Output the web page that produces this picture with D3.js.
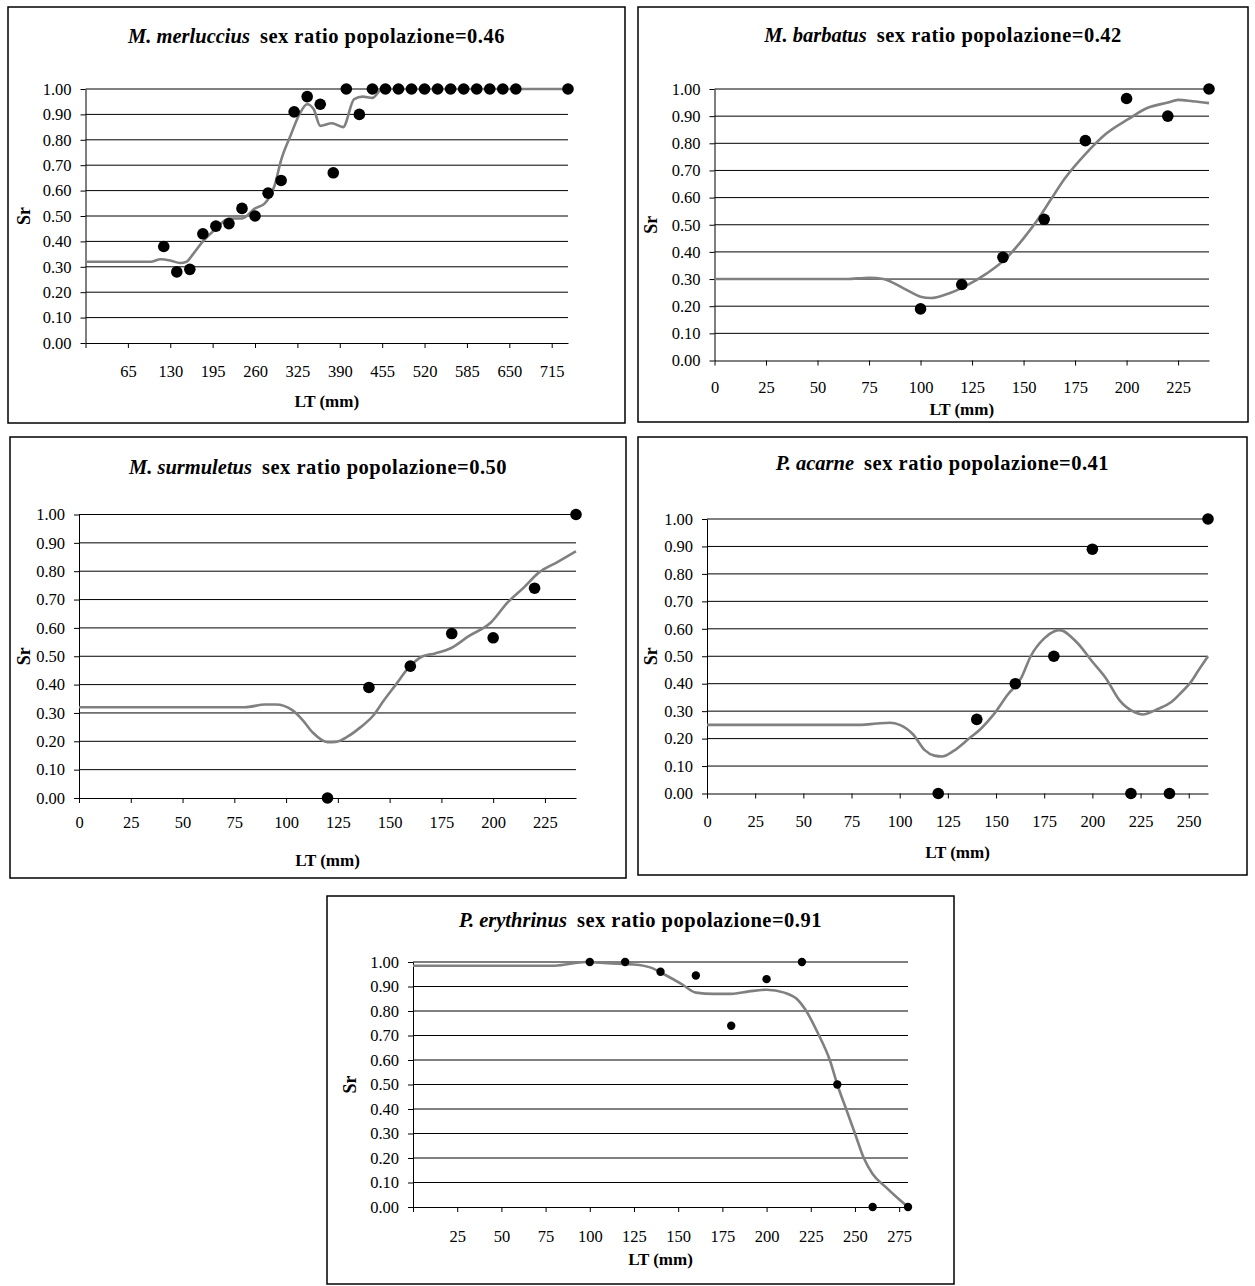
<!DOCTYPE html>
<html><head><meta charset="utf-8">
<script src="https://cdn.jsdelivr.net/npm/d3@7"></script>
<style>body{margin:0;background:#fff} svg{display:block}</style>
</head><body>
<svg id="c" width="1255" height="1286"></svg>
<script>
// ---------- DATA ----------
const species = ["M. merluccius", "M. barbatus", "M. surmuletus", "P. acarne", "P. erythrinus"];
const popRatio = ["0.46", "0.42", "0.50", "0.41", "0.91"];
const yTicks = [0, 0.1, 0.2, 0.3, 0.4, 0.5, 0.6, 0.7, 0.8, 0.9, 1.0];

const merlTicks = [0, 65, 130, 195, 260, 325, 390, 455, 520, 585, 650, 715];
const merlX = [120,140,160,180,200,220,240,260,280,300,320,340,360,380,400,420,440,460,480,500,520,540,560,580,600,620,640,660,740];
const merlY = [0.38,0.28,0.29,0.43,0.46,0.47,0.53,0.50,0.59,0.64,0.91,0.97,0.94,0.67,1.00,0.90,1.00,1.00,1.00,1.00,1.00,1.00,1.00,1.00,1.00,1.00,1.00,1.00,1.00];
const merlTrend = [[0,0.32],[100,0.32],[115,0.33],[130,0.325],[145,0.315],[155,0.32],[165,0.35],[180,0.40],[200,0.45],[220,0.49],[240,0.49],[260,0.53],[275,0.55],[290,0.62],[300,0.72],[315,0.82],[328,0.90],[340,0.94],[350,0.92],[360,0.855],[378,0.865],[395,0.85],[412,0.96],[425,0.97],[440,0.965],[455,1.00],[740,1.00]];

const barbTicks = [0, 25, 50, 75, 100, 125, 150, 175, 200, 225];
const barbX = [100,120,140,160,180,200,220,240];
const barbY = [0.19,0.28,0.38,0.52,0.81,0.965,0.90,1.00];
const barbTrend = [[0,0.30],[64,0.30],[75,0.305],[82,0.30],[92,0.265],[100,0.235],[105,0.23],[113,0.245],[122,0.275],[132,0.32],[142,0.38],[150,0.45],[157,0.52],[163,0.59],[170,0.67],[180,0.76],[190,0.835],[201,0.89],[210,0.93],[220,0.95],[225,0.96],[232,0.955],[240,0.948]];

const surmTicks = [0, 25, 50, 75, 100, 125, 150, 175, 200, 225];
const surmX = [120,140,160,180,200,220,240];
const surmY = [0.00,0.39,0.465,0.58,0.565,0.74,1.00];
const surmTrend = [[0,0.32],[80,0.32],[90,0.33],[95,0.33],[103,0.31],[108,0.275],[113,0.23],[120,0.197],[124,0.198],[130,0.218],[136,0.25],[142,0.29],[147,0.342],[153,0.40],[159,0.458],[166,0.50],[172,0.51],[180,0.53],[188,0.57],[199,0.62],[207,0.69],[215,0.744],[222,0.795],[231,0.832],[240,0.87]];

const acarTicks = [0, 25, 50, 75, 100, 125, 150, 175, 200, 225, 250];
const acarX = [120,140,160,180,200,220,240,260];
const acarY = [0.00,0.27,0.40,0.50,0.89,0.00,0.00,1.00];
const acarTrend = [[0,0.25],[80,0.25],[88,0.255],[95,0.258],[100,0.25],[107,0.215],[113,0.158],[118,0.138],[122,0.135],[128,0.155],[136,0.20],[142,0.235],[149,0.29],[156,0.36],[163,0.42],[168,0.50],[175,0.565],[180,0.59],[183,0.595],[192,0.55],[200,0.48],[207,0.42],[214,0.34],[222,0.296],[226,0.288],[234,0.308],[241,0.333],[246,0.367],[251,0.405],[255,0.448],[260,0.50]];

const eryTicks = [0, 25, 50, 75, 100, 125, 150, 175, 200, 225, 250, 275];
const eryX = [100,120,140,160,180,200,220,240,260,280];
const eryY = [1.00,1.00,0.96,0.945,0.74,0.93,1.00,0.50,0.00,0.00];
const eryTrend = [[0,0.985],[80,0.985],[98,1.00],[110,0.995],[125,0.99],[135,0.976],[142,0.95],[152,0.91],[160,0.875],[170,0.87],[180,0.87],[190,0.88],[200,0.887],[210,0.875],[217,0.85],[222,0.805],[229,0.71],[236,0.595],[240,0.50],[245,0.40],[250,0.30],[255,0.20],[260,0.135],[267,0.084],[273,0.044],[280,0.00]];

// ---------- LAYOUT ----------
const panels = [
  {sp:0, xMax:740, ticks:merlTicks, skip0:true,  xs:merlX, ys:merlY, trend:merlTrend,
   box:[8,7,625,423], plot:[85.5,89,568,343], titleY:42.5, xLabY:376.5, ltY:407, srX:24, r:5.8},
  {sp:1, xMax:240, ticks:barbTicks, skip0:false, xs:barbX, ys:barbY, trend:barbTrend,
   box:[638,7,1248,422], plot:[714.5,89,1209,360.5], titleY:42, xLabY:393.3, ltY:415, srX:651, r:5.8},
  {sp:2, xMax:240, ticks:surmTicks, skip0:false, xs:surmX, ys:surmY, trend:surmTrend,
   box:[10,437,626,878], plot:[79,514.5,576,798], titleY:473.5, xLabY:828, ltY:866, srX:24, r:5.8},
  {sp:3, xMax:260, ticks:acarTicks, skip0:false, xs:acarX, ys:acarY, trend:acarTrend,
   box:[638,437,1247,875], plot:[707,519,1208,793.5], titleY:469.5, xLabY:826.7, ltY:858.3, srX:651, r:5.8},
  {sp:4, xMax:280, ticks:eryTicks, skip0:true,  xs:eryX, ys:eryY, trend:eryTrend,
   box:[327,896,954,1284], plot:[413,962,908,1207], titleY:926.5, xLabY:1241.5, ltY:1265, srX:350, r:4.2}
];

const svg = d3.select("#c");
const FONT = "'Liberation Serif','Times New Roman',serif";

panels.forEach(p => {
  const [bx0, by0, bx1, by1] = p.box;
  const [px0, py1, px1, py0] = p.plot;
  const g = svg.append("g");
  g.append("rect").attr("x", bx0).attr("y", by0).attr("width", bx1 - bx0).attr("height", by1 - by0)
    .attr("fill", "#fff").attr("stroke", "#000").attr("stroke-width", 1.5);

  const x = d3.scaleLinear().domain([0, p.xMax]).range([px0, px1]);
  const y = d3.scaleLinear().domain([0, 1]).range([py0, py1]);

  // gridlines
  g.append("g").selectAll("line").data(yTicks.filter(d => d > 0)).join("line")
    .attr("x1", px0).attr("x2", px1).attr("y1", d => y(d)).attr("y2", d => y(d))
    .attr("stroke", "#000").attr("stroke-width", 1);

  // y axis
  const ya = g.append("g").attr("transform", `translate(${px0},0)`)
    .call(d3.axisLeft(y).tickValues(yTicks).tickSize(5).tickSizeOuter(0).tickPadding(9).tickFormat(d3.format(".2f")));
  ya.selectAll("text").attr("font-family", FONT).attr("font-size", 16.5).attr("fill", "#000");
  ya.selectAll("line,path").attr("stroke", "#000");

  // x axis
  const xa = g.append("g").attr("transform", `translate(0,${py0})`)
    .call(d3.axisBottom(x).tickValues(p.ticks).tickSize(5).tickSizeOuter(0)
      .tickFormat(d => (p.skip0 && d === 0) ? "" : d));
  xa.selectAll("text").attr("font-family", FONT).attr("font-size", 16.5).attr("fill", "#000")
    .attr("y", p.xLabY - py0).attr("dy", 0);
  xa.selectAll("line,path").attr("stroke", "#000");

  // trend line
  g.append("path").datum(p.trend)
    .attr("d", d3.line().x(d => x(d[0])).y(d => y(d[1])).curve(d3.curveMonotoneX))
    .attr("fill", "none").attr("stroke", "#808080").attr("stroke-width", 2.6);

  // points
  g.append("g").selectAll("circle").data(p.xs.map((v, i) => [v, p.ys[i]])).join("circle")
    .attr("cx", d => x(d[0])).attr("cy", d => y(d[1])).attr("r", p.r).attr("fill", "#000");

  // title
  const t = g.append("text").attr("x", (bx0 + bx1) / 2).attr("y", p.titleY)
    .attr("text-anchor", "middle").attr("font-family", FONT).attr("font-size", 20.5).attr("font-weight", "bold");
  t.append("tspan").attr("font-style", "italic").text(species[p.sp]);
  t.append("tspan").attr("dx", 10).attr("letter-spacing", 0.5).text("sex ratio popolazione=" + popRatio[p.sp]);

  // axis titles
  g.append("text").attr("x", (px0 + px1) / 2).attr("y", p.ltY).attr("text-anchor", "middle")
    .attr("font-family", FONT).attr("font-size", 17).attr("font-weight", "bold").text("LT (mm)");
  g.append("text").attr("transform", `translate(${p.srX},${(py0 + py1) / 2}) rotate(-90)`)
    .attr("text-anchor", "middle").attr("dy", "0.35em")
    .attr("font-family", FONT).attr("font-size", 18).attr("font-weight", "bold").text("Sr");
});
</script>
</body></html>
